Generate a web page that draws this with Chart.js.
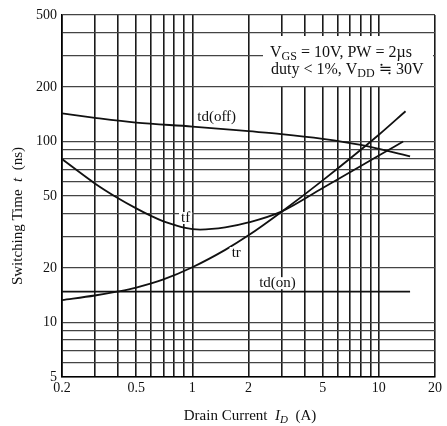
<!DOCTYPE html>
<html><head><meta charset="utf-8">
<script src="https://cdn.jsdelivr.net/npm/chart.js@4/dist/chart.umd.min.js"></script>
<style>html,body{margin:0;padding:0;background:#fff}#wrap{width:447px;height:426px}</style>
</head><body><div id="wrap"><canvas id="c" width="447" height="426"></canvas></div>
<script>
// ---- axis grid / tick values ----
const xGrid = [0.2,0.3,0.4,0.5,0.6,0.7,0.8,0.9,1,2,3,4,5,6,7,8,9,10,20];
const xTickLabels = [0.2,0.5,1,2,5,10,20];
const yGrid = [5,6,7,8,9,10,20,30,40,50,60,70,80,90,100,200,300,400,500];
const yTickLabels = [5,10,20,50,100,200,500];

// ---- series (Drain current A, switching time ns) ----
const tdOffX = [0.2, 0.3, 0.5, 1, 2, 3, 5, 8, 14.7];
const tdOffY = [143, 135.2, 127.2, 121, 114, 110, 103.5, 95.8, 82.8];
const tfX = [0.2, 0.3, 0.4, 0.5, 0.6, 0.7, 0.8, 0.9, 1.1, 1.5, 2, 3, 5, 10, 13.5];
const tfY = [80, 58.7, 48.6, 42.7, 38.8, 36.2, 34.6, 33.4, 32.6, 33.5, 35.7, 41, 55.4, 83.7, 100];
const trX = [0.2, 0.3, 0.4, 0.5, 0.7, 1, 1.5, 2, 3, 5, 10, 13.9];
const trY = [13.3, 14.1, 14.85, 15.6, 17.3, 20.2, 25.2, 30.3, 40.8, 61, 109, 147];
const tdOnX = [0.2, 14.7];
const tdOnY = [14.8, 14.8];

const seriesNames = ['td(off)', 'tf', 'tr', 'td(on)'];
// label anchors (data coordinates)
const labelAnchors = [[1.35, 136], [0.92, 37.8], [1.72, 24.2], [2.86, 16.5]];

const SERIF = "'Liberation Serif','DejaVu Serif',serif";

function pts(xs, ys){ return xs.map((v,i)=>({x:v, y:ys[i]})); }

function drawRich(ctx, parts, x, y, size, align){
  const fontFor = st => {
    const it = st.includes('i') ? 'italic ' : '';
    const sz = st.includes('s') ? Math.round(size*0.72) : size;
    return it + sz + 'px ' + SERIF;
  };
  let total = 0;
  parts.forEach(p=>{ ctx.font = fontFor(p[1]); total += ctx.measureText(p[0]).width; });
  let cx = align === 'center' ? x - total/2 : x;
  ctx.textAlign = 'left';
  parts.forEach(p=>{
    ctx.font = fontFor(p[1]);
    const dy = p[1].includes('s') ? size*0.2 : 0;
    ctx.fillText(p[0], cx, y + dy);
    cx += ctx.measureText(p[0]).width;
  });
  return total;
}

const deco = {
  id: 'deco',
  beforeDatasetsDraw(chart){
    const {ctx, chartArea:a, scales:{y}} = chart;
    ctx.save();
    ctx.fillStyle = '#fff';
    const top = a.top + 21, bottom = y.getPixelForValue(200) - 1;
    ctx.fillRect(a.left + 201, top, a.right - 2 - (a.left + 201), bottom - top);
    ctx.fillStyle = '#111';
    ctx.textBaseline = 'alphabetic';
    drawRich(ctx, [['V',''],['GS','s'],[' = 10V, PW = 2\u00b5s','']], a.left + 208, 57, 16, 'left');
    drawRich(ctx, [['duty < 1%, V',''],['DD','s'],[' \u2252 30V','']], a.left + 209, 74, 16, 'left');
    ctx.restore();
  },
  afterDatasetsDraw(chart){
    const {ctx, scales:{x,y}} = chart;
    ctx.save();
    ctx.font = '15px ' + SERIF;
    ctx.textAlign = 'center';
    ctx.textBaseline = 'middle';
    seriesNames.forEach((n,i)=>{
      const px = x.getPixelForValue(labelAnchors[i][0]);
      const py = y.getPixelForValue(labelAnchors[i][1]);
      const w = ctx.measureText(n).width;
      ctx.fillStyle = '#fff';
      ctx.fillRect(px - w/2 - 2, py - 6, w + 4, 12);
      ctx.fillStyle = '#111';
      ctx.fillText(n, px, py);
    });
    ctx.restore();
  },
  afterDraw(chart){
    const {ctx} = chart;
    ctx.save();
    ctx.fillStyle = '#111';
    ctx.textBaseline = 'alphabetic';
    drawRich(ctx, [['Drain Current  ',''],['I','i'],['D','is'],['  (A)','']], 250, 420, 15, 'center');
    ctx.translate(22, 216);
    ctx.rotate(-Math.PI/2);
    drawRich(ctx, [['Switching Time  ',''],['t','i'],['  (ns)','']], 0, 0, 15, 'center');
    ctx.restore();
  }
};

const lineStyle = {borderColor:'#111', borderWidth:1.8, pointRadius:0, fill:false, cubicInterpolationMode:'monotone'};

new Chart(document.getElementById('c'), {
  type: 'line',
  data: {
    datasets: [
      {label: seriesNames[0], data: pts(tdOffX, tdOffY), ...lineStyle},
      {label: seriesNames[1], data: pts(tfX, tfY), ...lineStyle},
      {label: seriesNames[2], data: pts(trX, trY), ...lineStyle},
      {label: seriesNames[3], data: pts(tdOnX, tdOnY), ...lineStyle}
    ]
  },
  options: {
    responsive: false,
    animation: false,
    devicePixelRatio: 1,
    layout: {padding: {top: 15, right: 12, left: 0, bottom: 0}},
    plugins: {legend: {display: false}, tooltip: {enabled: false}},
    scales: {
      x: {
        type: 'logarithmic', min: 0.2, max: 20,
        afterBuildTicks: s => { s.ticks = xGrid.map(v => ({value: v})); },
        afterFit: s => { s.height = 49; },
        ticks: {
          autoSkip: false, maxRotation: 0, padding: 3, color: '#111',
          font: {family: SERIF, size: 14},
          callback: v => xTickLabels.includes(v) ? String(v) : ''
        },
        grid: {color: '#1a1a1a', lineWidth: 1.6, drawTicks: false},
        border: {color: '#000', width: 1.6}
      },
      y: {
        type: 'logarithmic', min: 5, max: 500,
        afterBuildTicks: s => { s.ticks = yGrid.map(v => ({value: v})); },
        afterFit: s => { s.width = 62; },
        ticks: {
          autoSkip: false, padding: 5, color: '#111',
          font: {family: SERIF, size: 14},
          callback: v => yTickLabels.includes(v) ? String(v) : ''
        },
        grid: {color: '#444', lineWidth: 1.2, drawTicks: false},
        border: {color: '#000', width: 1.6}
      }
    }
  },
  plugins: [deco]
});
</script>
</body></html>
